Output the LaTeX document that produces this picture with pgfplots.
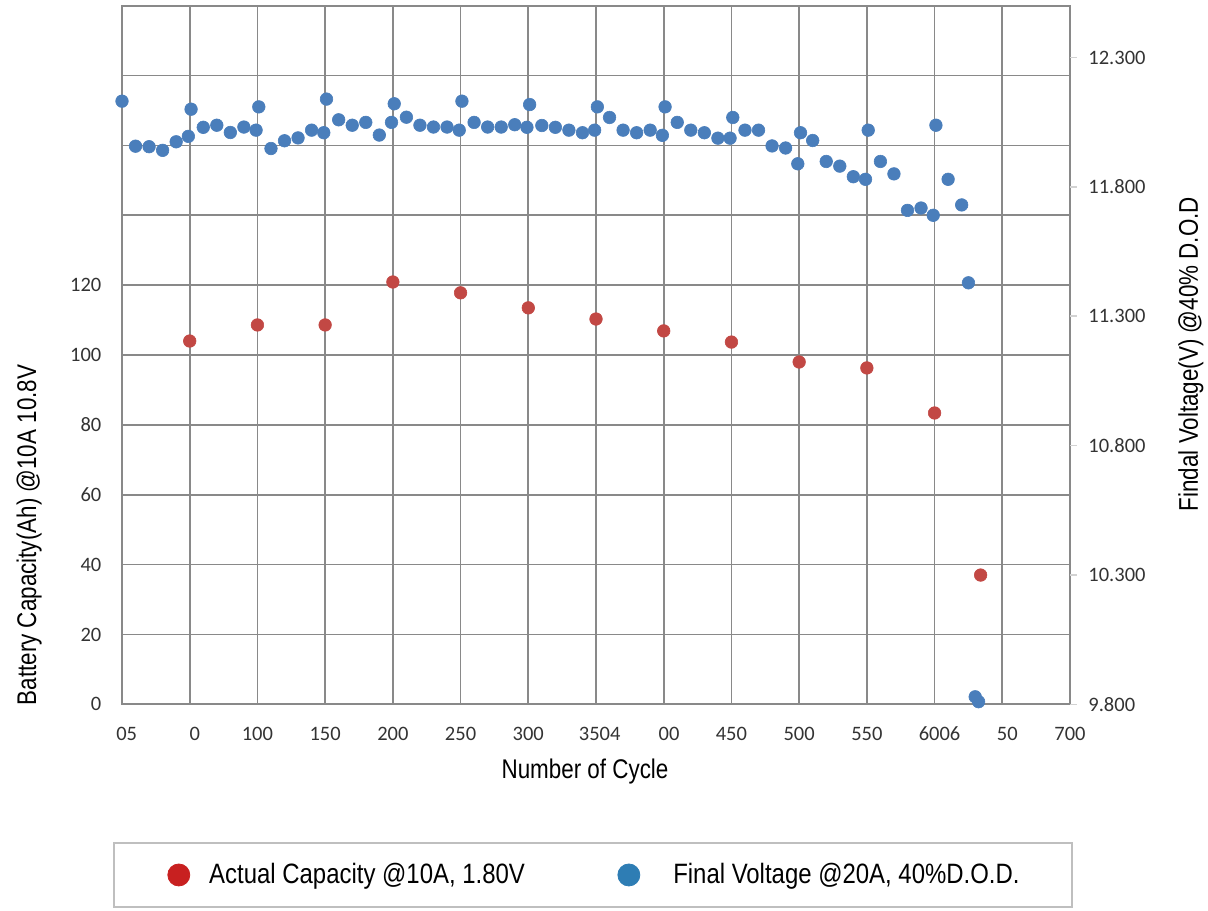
\documentclass[border=0pt]{standalone}
\usepackage{pgfplots}
\pgfplotsset{compat=1.18}
\usepackage{fontspec}
\setmainfont{Liberation Sans}
\newfontfamily\carlito{Carlito}
\newfontfamily\narrow[FakeStretch=0.83]{Liberation Sans}
\newfontfamily\legnarrow[FakeStretch=0.855]{Liberation Sans}
\definecolor{plotblue}{RGB}{74,126,187}
\definecolor{plotred}{RGB}{194,72,68}
\definecolor{legred}{RGB}{200,32,32}
\definecolor{legblue}{RGB}{46,125,180}
\definecolor{gridgray}{RGB}{137,137,137}
\definecolor{framegray}{RGB}{191,191,191}
\definecolor{ticktext}{RGB}{51,51,51}

\pgfplotstableread{
x y
50 104.0
100 108.6
150 108.6
200 120.9
250 117.8
300 113.5
350 110.3
400 106.9
450 103.7
500 98.0
550 96.3
600 83.4
634 37.0
}\capacity

\pgfplotstableread{
x v
0 12.131
10 11.957
20 11.955
30 11.941
40 11.974
49 11.995
51 12.100
60 12.030
70 12.038
80 12.010
90 12.031
99 12.019
101 12.109
110 11.948
120 11.978
130 11.989
140 12.019
149 12.009
151 12.139
160 12.059
170 12.038
180 12.049
190 12.000
199 12.049
201 12.121
210 12.069
220 12.038
230 12.031
240 12.031
249 12.019
251 12.131
260 12.049
270 12.031
280 12.031
290 12.040
299 12.030
301 12.118
310 12.037
320 12.030
330 12.019
340 12.009
349 12.019
351 12.109
360 12.068
370 12.019
380 12.009
390 12.019
399 11.999
401 12.109
410 12.049
420 12.019
430 12.009
440 11.988
449 11.988
451 12.068
460 12.019
470 12.019
480 11.958
490 11.950
499 11.889
501 12.009
510 11.979
520 11.898
530 11.880
540 11.839
549 11.829
551 12.019
560 11.898
570 11.850
580 11.709
590 11.718
599 11.690
601 12.038
610 11.829
620 11.730
625 11.429
630 9.829
632.5 9.810
}\voltage

\pgfplotsset{
  common/.style={
    scale only axis, width=474pt, height=349.3pt,
    xmin=0, xmax=700, clip=false,
    at={(0,0)}, anchor=south west,
  },
}
\tikzset{
  ticklab/.style={font=\carlito\fontsize{10.25pt}{12pt}\selectfont, text=ticktext},
  labfont/.style={font=\narrow\fontsize{13.5pt}{16pt}\selectfont, text=black, inner sep=0pt},
}

\begin{document}
\begin{tikzpicture}
\begin{axis}[common,
  ymin=0, ymax=200,
  xtick={0,50,...,700},
  xticklabels={\hspace*{4.7pt}05,\hspace*{5pt}0,100,150,200,250,300,\hspace*{3.7pt}3504,\hspace*{5.3pt}00,450,500,550,\hspace*{5pt}6006,\hspace*{5pt}50,700},
  ytick={0,20,...,180},
  yticklabels={0,20,40,60,80,100,120,{},{},{}},
  grid=major,
  major grid style={draw=gridgray, line width=0.9pt},
  axis line style={draw=gridgray, line width=0.9pt},
  major tick length=0pt,
  tick label style={ticklab},
  xticklabel style={anchor=base, inner sep=0pt, yshift=-17.85pt},
  yticklabel style={anchor=east, inner sep=0pt, xshift=-10.15pt},
  xlabel={Number of Cycle},
  ylabel={Battery Capacity(Ah) @10A 10.8V},
  every axis x label/.style={at={(axis description cs:0.4884,-0.1055)}, anchor=base, labfont},
  every axis y label/.style={at={(axis description cs:-0.0907,0.2423)}, rotate=90, anchor=base, labfont},
  legend style={at={(axis description cs:0.04747,-0.2443)}, anchor=west, draw=none, fill=none, inner sep=0pt,
    nodes={inner sep=0pt, font=\legnarrow\fontsize{14pt}{16pt}\selectfont, text=black},
    /tikz/every odd column/.append style={column sep=9.5pt}},
]
\addplot[only marks, color=plotred, mark=*, mark size=3.15pt, mark options={solid, fill=plotred, draw=plotred, line width=0.3pt},
  legend image code/.code={\fill[legred] (5.5pt,0pt) circle (5.5pt);}] table[x=x, y=y] {\capacity};
\addlegendentry{Actual Capacity @10A, 1.80V}
\end{axis}

\begin{axis}[common,
  ymin=9.8, ymax=12.5,
  axis x line=none,
  axis y line*=right,
  axis line style={draw=none},
  ytick={9.8,10.3,10.8,11.3,11.8,12.3},
  yticklabels={9.800,10.300,10.800,11.300,11.800,12.300},
  tick align=outside,
  major tick length=3.3pt,
  ytick style={draw=gray!35, line width=0.8pt},
  tick label style={ticklab},
  yticklabel style={anchor=west, inner sep=0pt, xshift=5.7pt},
  ylabel={Findal Voltage(V) @40\% D.O.D},
  every axis y label/.style={at={(axis description cs:1.135,0.5014)}, rotate=90, anchor=base, labfont},
  legend style={at={(axis description cs:0.5222,-0.2443)}, anchor=west, draw=none, fill=none, inner sep=0pt,
    nodes={inner sep=0pt, font=\legnarrow\fontsize{14pt}{16pt}\selectfont, text=black},
    /tikz/every odd column/.append style={column sep=16.5pt}},
]
\addplot[only marks, color=plotblue, mark=*, mark size=3.15pt, mark options={solid, fill=plotblue, draw=plotblue, line width=0.3pt},
  legend image code/.code={\fill[legblue] (5.5pt,0pt) circle (5.5pt);}] table[x=x, y=v] {\voltage};
\addlegendentry{Final Voltage @20A, 40\%D.O.D.}
\end{axis}

\draw[draw=framegray, line width=0.75pt] (-4pt,-69.35pt) rectangle (475pt,-101.35pt);

\pgfresetboundingbox
\path (-61pt,-102.85pt) rectangle (543pt,352.15pt);
\end{tikzpicture}
\end{document}
